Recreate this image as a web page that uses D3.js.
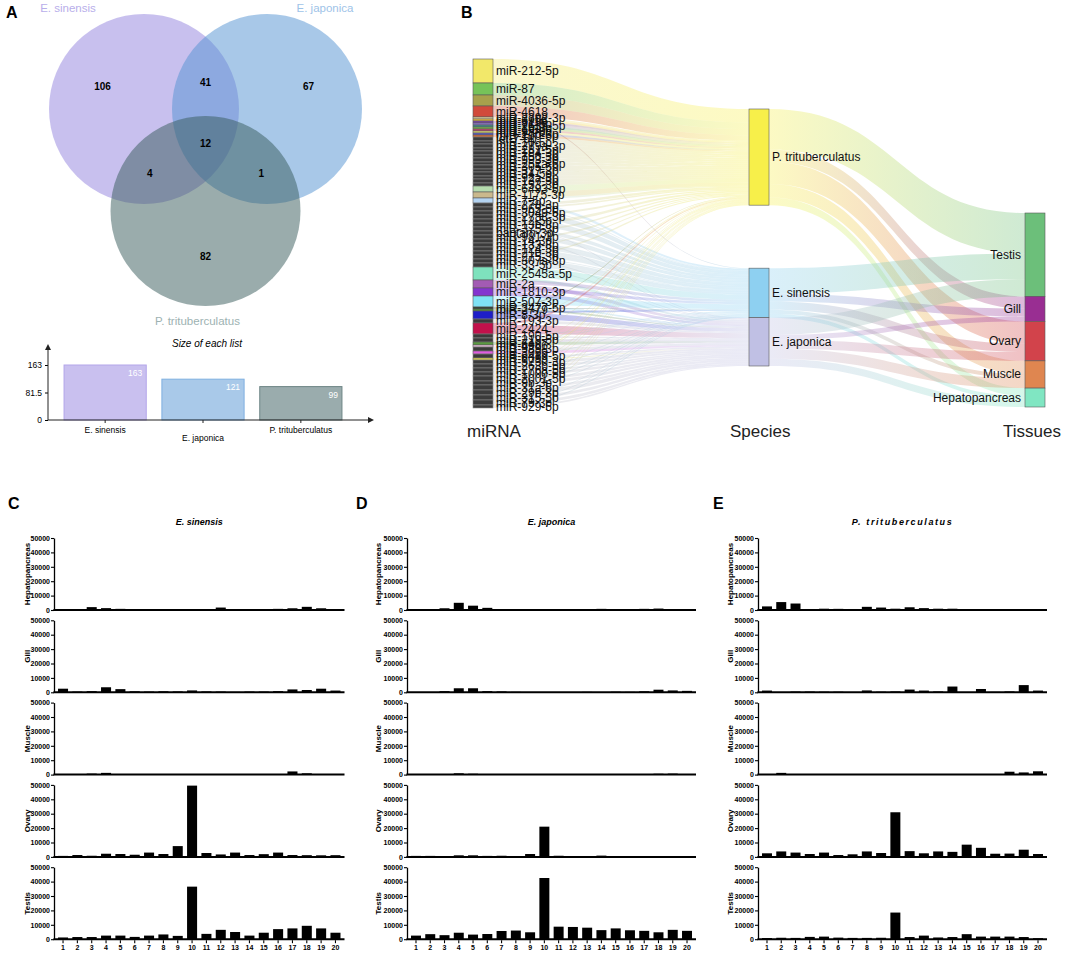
<!DOCTYPE html>
<html lang="en">
<head>
<meta charset="UTF-8">
<title>miRNA across species and tissues</title>
<script src="https://d3js.org/d3.v7.min.js"></script>
<style>
    html, body { margin: 0; padding: 0; background: #fff; }
    svg { display: block; font-family: "Liberation Sans", Arial, sans-serif; }
</style>
</head>
<body>
<svg id="canvas" width="1084" height="955"></svg>
<script>
// ---------------- data ----------------
// A: Venn + list sizes
const vennSets = ["E. sinensis", "E. japonica", "P. trituberculatus"];
const listSizes = [163, 121, 99];
// only sin, only jap, only P, sin&jap, sin&P, jap&P, all three
const vennCounts = [106, 67, 82, 41, 4, 1, 12];

// B: Sankey
const GRAY = "#3b3b3b";
const mirNames = [
    "miR-212-5p", "miR-87", "miR-4036-5p", "miR-4618", "miR-2392-3p", "miR-3968", "miR-5119",
    "miR-71-5p", "miR-263a-5p", "miR-2b-3p", "miR-1-3p", "miR-9a-5p", "miR-276-3p", "miR-100-5p",
    "let-7-5p", "miR-10-5p", "miR-279a-3p", "miR-281-5p", "miR-184-3p", "miR-750-3p", "miR-993-3p",
    "miR-252a-5p", "miR-305-5p", "miR-317-3p", "miR-34-5p", "miR-92a-3p", "miR-137-3p", "miR-153-3p",
    "miR-6493-5p", "miR-1175-3p", "miR-7-5p",
    "miR-278-3p", "miR-965-5p", "miR-3049-5p", "miR-2788-3p", "miR-12-5p", "miR-13b-3p", "miR-375-3p",
    "bantam-3p", "miR-981-3p", "miR-14-3p", "miR-133-3p", "miR-124-3p", "miR-210-3p", "miR-275-3p",
    "miR-307a-3p", "miR-33-5p",
    "miR-2545a-5p", "miR-2a", "miR-1810-3p", "miR-507-3p", "miR-3477-5p", "miR-2779", "miR-8-3p",
    "miR-193-3p", "miR-2424",
    "miR-190-5p", "miR-219-5p", "miR-6497", "miR-4966", "miR-989-3p", "miR-3099", "miR-6489-5p",
    "miR-6089", "miR-5730-3p", "miR-263b-5p", "miR-276a-5p", "miR-1000-5p", "miR-2001-5p",
    "miR-9b-3p", "miR-31a-5p", "miR-29b-3p", "miR-315-5p", "miR-79-3p", "miR-929-5p"
];
const mirColors = [
    "#f2e86a", "#76c359", "#a7a14c", "#d14a3b", "#e6d8a0", "#f0c040", "#7a40b0",
    "#9078d0", "#3f8c8c", "#78b648", "#c2406e", "#e2e070", "#5a5ac8", "#d86a30",
    GRAY, GRAY, GRAY, GRAY, GRAY, GRAY, GRAY, GRAY, GRAY, GRAY, GRAY, GRAY, GRAY, GRAY,
    "#b5dcae", "#cab98d", "#b3d3f1",
    GRAY, GRAY, GRAY, GRAY, GRAY, GRAY, GRAY, GRAY, GRAY, GRAY, GRAY, GRAY, GRAY, GRAY, GRAY, GRAY,
    "#7ee2bd", "#a35bb3", "#8434cf", "#7fe2f5", "#2d3d2d", "#4d8c3a", "#1e1ec8", GRAY, "#c2114b",
    GRAY, GRAY, "#5a9a40", "#f2c6e6", GRAY, "#e05ce0", GRAY, "#e8e050",
    GRAY, GRAY, GRAY, GRAY, GRAY, GRAY, GRAY, GRAY, GRAY, GRAY, GRAY
];
const mirToPT = [24, 12, 11, 10, 2, 2, 2, 2, 2, 2, 2, 2, 2, 2,
    4, 3, 4, 3, 4, 3, 4, 3, 4, 3, 4, 3, 4, 3, 6, 6, 2,
    3, 2, 0, 2, 0, 3, 0, 2, 0, 2, 0, 1, 0, 2, 0, 0,
    0, 0, 0, 0, 1, 0, 0, 1, 2,
    1, 0, 0, 0, 1, 0, 1, 1, 1, 0, 1, 1, 1, 0, 1, 1, 1, 1, 0];
const mirToES = [0, 0, 0, 1, 0, 0, 0, 0, 0, 0, 0, 0, 0, 0,
    0, 0, 0, 0, 0, 0, 0, 0, 0, 0, 0, 0, 0, 0, 0, 0, 3,
    1, 2, 4, 2, 4, 0, 4, 2, 3, 2, 4, 3, 4, 1, 4, 3,
    10, 4, 4, 9, 1, 0, 2, 0, 0,
    1, 1, 0, 1, 0, 0, 1, 0, 0, 1, 1, 0, 1, 1, 1, 0, 1, 1, 1];
const mirToEJ = [0, 0, 0, 0, 0, 0, 0, 0, 0, 0, 0, 0, 0, 0,
    0, 0, 0, 0, 0, 0, 0, 0, 0, 0, 0, 0, 0, 0, 0, 0, 0,
    0, 0, 0, 0, 0, 1, 0, 0, 1, 0, 0, 0, 0, 1, 0, 1,
    3, 4, 4, 2, 0, 2, 6, 3, 9,
    2, 3, 3, 1, 3, 3, 2, 1, 3, 3, 2, 3, 3, 3, 3, 4, 3, 3, 2];

const speciesNames = ["P. trituberculatus", "E. sinensis", "E. japonica"];
const speciesColors = ["#f7ef4a", "#8ed0f1", "#c0c0e4"];
const tissueNames = ["Testis", "Gill", "Ovary", "Muscle", "Hepatopancreas"];
const tissueColors = ["#6cbf7a", "#992e92", "#d2434b", "#df8650", "#80e6c2"];
const ptToTissue = [73, 22, 40, 24, 14];
const esToTissue = [46, 14, 15, 7, 7];
const ejToTissue = [31, 9, 16, 18, 13];

// C-E: expression of top 20 miRNAs
const mirIds = ["1","2","3","4","5","6","7","8","9","10","11","12","13","14","15","16","17","18","19","20"];
const tissueRows = ["Hepatopancreas", "Gill", "Muscle", "Ovary", "Testis"];
const yTicks = [0, 10000, 20000, 30000, 40000, 50000];

const esHepato = [100,100,2000,1300,800,400,400,300,400,300,300,1700,200,200,200,800,1200,2200,1200,300];
const esGill   = [2500,500,800,3500,2200,700,500,700,600,1300,600,500,300,500,500,800,2000,1600,2500,1200];
const esMuscle = [100,100,700,1200,100,100,100,100,100,300,100,100,100,300,100,300,2200,900,300,100];
const esOvary  = [700,1300,800,2200,2000,1500,3000,2000,7500,49500,2700,1700,3000,1300,1900,3000,1300,1200,1100,1200];
const esTestis = [1200,1500,1500,2500,2500,1600,2500,3300,2300,36500,3700,6500,5000,2500,4500,7000,7500,9300,7500,4500];

const ejHepato = [100,100,1200,5000,3000,1500,300,200,300,200,200,200,200,800,300,300,800,1000,400,300];
const ejGill   = [100,100,800,2800,2800,800,600,300,100,100,100,100,300,200,400,300,700,1800,1300,1000];
const ejMuscle = [100,100,400,900,600,300,300,200,100,100,100,100,200,300,200,300,400,600,700,100];
const ejOvary  = [700,700,600,1100,1100,700,800,600,2000,21000,800,600,400,900,400,400,300,500,300,300];
const ejTestis = [2500,3500,2800,4500,3200,3600,5700,6000,4800,42500,8700,8500,8000,6300,7500,6200,5800,4800,6500,5800];

const ptHepato = [2500,5500,4500,700,900,800,700,2200,1700,900,1900,1300,900,900,100,100,200,100,300,300];
const ptGill   = [1200,100,500,500,400,400,100,1300,400,600,1900,1200,600,4000,100,2300,300,600,5000,1200];
const ptMuscle = [100,1200,100,100,100,100,100,100,100,100,100,100,400,100,100,100,100,2000,1500,2300];
const ptOvary  = [2500,3800,3000,2000,3000,1300,1800,3800,2700,31000,4000,2500,3800,3500,8500,6300,2200,2300,5000,2000];
const ptTestis = [800,1000,900,1600,1800,1100,900,900,1000,18500,1500,2500,1200,1500,3500,1800,1800,1800,1500,700];

// ---------------- drawing ----------------
const svg = d3.select("#canvas");
const defs = svg.append("defs");

// panel letters
const letters = [["A", 6, 18], ["B", 461, 18], ["C", 8, 509], ["D", 356, 509], ["E", 713, 509]];
svg.append("g").selectAll("text").data(letters).join("text")
    .attr("x", d => d[1]).attr("y", d => d[2])
    .attr("font-size", 16).attr("font-weight", "bold").text(d => d[0]);

// ===== A: Venn =====
(function drawVenn() {
    const colors = ["#9181dd", "#5191d1", "#355959"];
    const titleColors = ["#b8aeea", "#9ec3e8", "#9db2b2"];
    const r = 95, cx = 205.5, cy = 109, dx = 61.5, dy = 102;
    const centres = [[cx - dx, cy], [cx + dx, cy], [cx, cy + dy]];
    const g = svg.append("g");

    g.selectAll("circle").data(centres).join("circle")
        .attr("cx", d => d[0]).attr("cy", d => d[1]).attr("r", r)
        .attr("fill", (d, i) => colors[i]).attr("fill-opacity", 0.5);

    const mid = (a, b) => [(a[0] + b[0]) / 2, (a[1] + b[1]) / 2];
    const push = (p, from, f) => [p[0] + (p[0] - from[0]) * f, p[1] + (p[1] - from[1]) * f];
    const [S, J, P] = centres;
    const labelPos = [
        push(S, mid(J, P), 0.45),
        push(J, mid(S, P), 0.45),
        push(P, mid(S, J), 0.45),
        push(mid(S, J), P, 0.26),
        push(mid(S, P), J, 0.27),
        push(mid(J, P), S, 0.27),
        [(S[0] + J[0] + P[0]) / 3, (S[1] + J[1] + P[1]) / 3]
    ];
    g.selectAll("text.cnt").data(vennCounts).join("text").attr("class", "cnt")
        .attr("x", (d, i) => labelPos[i][0]).attr("y", (d, i) => labelPos[i][1])
        .attr("text-anchor", "middle").attr("dominant-baseline", "central")
        .attr("font-size", 10).attr("font-weight", "bold").text(d => d);

    const titlePos = [[S[0] - 76, 12], [J[0] + 58, 12], [P[0] - 8, P[1] + r + 19]];
    g.selectAll("text.ttl").data(vennSets).join("text").attr("class", "ttl")
        .attr("x", (d, i) => titlePos[i][0]).attr("y", (d, i) => titlePos[i][1])
        .attr("text-anchor", "middle").attr("font-size", 11.5)
        .attr("fill", (d, i) => titleColors[i]).text(d => d);

    // size of each list
    const bx = d3.scaleBand().domain(vennSets).range([48, 358]).paddingInner(0.16).paddingOuter(0.164);
    const by = d3.scaleLinear().domain([0, 163]).range([420, 365]);
    const barFill = ["#c9c0ef", "#a9c9e9", "#9aacad"];
    const barStroke = ["#b3a6ea", "#7fb0e0", "#6d8586"];
    g.append("text").attr("x", 207).attr("y", 347).attr("text-anchor", "middle")
        .attr("font-size", 10).attr("font-style", "italic").text("Size of each list");
    g.selectAll("rect").data(listSizes).join("rect")
        .attr("x", (d, i) => bx(vennSets[i])).attr("width", bx.bandwidth())
        .attr("y", d => by(d)).attr("height", d => by(0) - by(d))
        .attr("fill", (d, i) => barFill[i]).attr("stroke", (d, i) => barStroke[i]).attr("stroke-width", 1);
    g.selectAll("text.val").data(listSizes).join("text").attr("class", "val")
        .attr("x", (d, i) => bx(vennSets[i]) + bx.bandwidth() - 4).attr("y", d => by(d) + 11)
        .attr("text-anchor", "end").attr("font-size", 8.5).attr("fill", "#fff").text(d => d);

    const yAx = g.append("g").attr("transform", "translate(48,0)")
        .call(d3.axisLeft(by).tickValues([0, 81.5, 163]).tickFormat(d => d).tickSize(3).tickSizeOuter(0));
    yAx.select(".domain").remove();
    yAx.selectAll("text").attr("font-size", 8.5).attr("font-family", null);
    g.append("line").attr("x1", 48).attr("x2", 48).attr("y1", by(0)).attr("y2", 349).attr("stroke", "#222");
    g.append("line").attr("x1", 48).attr("x2", 369).attr("y1", by(0)).attr("y2", by(0)).attr("stroke", "#222");
    g.append("path").attr("d", "M45,350L48,344L51,350Z").attr("fill", "#222");
    g.append("path").attr("d", "M368,417L374,420L368,423Z").attr("fill", "#222");
    g.selectAll("line.xt").data(vennSets).join("line").attr("class", "xt")
        .attr("x1", d => bx(d) + bx.bandwidth() / 2).attr("x2", d => bx(d) + bx.bandwidth() / 2)
        .attr("y1", by(0)).attr("y2", by(0) + 3).attr("stroke", "#222");
    g.selectAll("text.xl").data(vennSets).join("text").attr("class", "xl")
        .attr("x", d => bx(d) + bx.bandwidth() / 2).attr("y", (d, i) => i === 1 ? 441 : 433)
        .attr("text-anchor", "middle").attr("font-size", 8.5).text(d => d);
})();

// ===== B: Sankey =====
(function drawSankey() {
    const L = {leftX: 473, nodeW: 20, midX: 749, rightX: 1025, leftTop: 59, leftBottom: 408,
               midTop: 109, speciesGap: 63, rightTop: 213, rightBottom: 407};
    const g = svg.append("g");
    const mirTargets = [mirToPT, mirToES, mirToEJ];
    const speciesToTissue = [ptToTissue, esToTissue, ejToTissue];
    const mirTotals = mirNames.map((_, i) => mirToPT[i] + mirToES[i] + mirToEJ[i]);
    const grand = d3.sum(mirTotals);
    const yL = d3.scaleLinear().domain([0, grand]).range([L.leftTop, L.leftBottom]);
    const kL = yL(1) - yL(0);
    const k = (L.rightBottom - L.rightTop) / grand;

    let acc = 0;
    const leftNodes = mirNames.map((name, i) => {
        const n = {name, color: mirColors[i], y0: yL(acc), y1: yL(acc + mirTotals[i])};
        acc += mirTotals[i];
        return n;
    });
    const speciesVal = speciesNames.map((_, j) => Math.max(d3.sum(mirTargets[j]), d3.sum(speciesToTissue[j])));
    let sy = L.midTop;
    const speciesNodes = speciesNames.map((name, j) => {
        const n = {name, color: speciesColors[j], y0: sy, y1: sy + speciesVal[j] * k};
        sy = n.y1 + (j === 0 ? L.speciesGap : 0);
        return n;
    });
    let ty = L.rightTop;
    const tissueNodes = tissueNames.map((name, t) => {
        const v = d3.sum(speciesToTissue, arr => arr[t]);
        const n = {name, color: tissueColors[t], y0: ty, y1: ty + v * k};
        ty = n.y1;
        return n;
    });

    const links = [];
    const lOff = leftNodes.map(n => n.y0);
    const sIn = speciesNodes.map(n => n.y0);
    mirNames.forEach((_, i) => {
        mirTargets.forEach((arr, j) => {
            const v = arr[i];
            if (!v) return;
            const s0 = lOff[i], s1 = s0 + v * kL; lOff[i] = s1;
            const t0 = sIn[j], t1 = t0 + v * k; sIn[j] = t1;
            links.push({x0: L.leftX + L.nodeW, x1: L.midX, s0, s1, t0, t1,
                c0: mirColors[i] === GRAY ? "#c4c4c4" : mirColors[i], c1: speciesColors[j]});
        });
    });
    const sOut = speciesNodes.map(n => n.y0);
    const tIn = tissueNodes.map(n => n.y0);
    speciesToTissue.forEach((arr, j) => {
        arr.forEach((v, t) => {
            const s0 = sOut[j], s1 = s0 + v * k; sOut[j] = s1;
            const t0 = tIn[t], t1 = t0 + v * k; tIn[t] = t1;
            links.push({x0: L.midX + L.nodeW, x1: L.rightX, s0, s1, t0, t1,
                c0: speciesColors[j], c1: tissueColors[t]});
        });
    });

    links.forEach((d, i) => {
        const gr = defs.append("linearGradient").attr("id", "lk" + i)
            .attr("gradientUnits", "userSpaceOnUse")
            .attr("x1", d.x0).attr("x2", d.x1).attr("y1", 0).attr("y2", 0);
        gr.append("stop").attr("offset", "0%").attr("stop-color", d.c0);
        gr.append("stop").attr("offset", "100%").attr("stop-color", d.c1);
    });

    function band(d) {
        const p = d3.path(), xm = (d.x0 + d.x1) / 2;
        p.moveTo(d.x0, d.s0);
        p.bezierCurveTo(xm, d.s0, xm, d.t0, d.x1, d.t0);
        p.lineTo(d.x1, d.t1);
        p.bezierCurveTo(xm, d.t1, xm, d.s1, d.x0, d.s1);
        p.closePath();
        return p.toString();
    }
    g.append("g").selectAll("path").data(links).join("path")
        .attr("d", band).attr("fill", (d, i) => `url(#lk${i})`).attr("fill-opacity", 0.33);

    function drawNodes(nodes, x) {
        g.append("g").selectAll("rect").data(nodes).join("rect")
            .attr("x", x).attr("width", L.nodeW)
            .attr("y", d => d.y0).attr("height", d => Math.max(0.5, d.y1 - d.y0))
            .attr("fill", d => d.color).attr("stroke", d => d.color === GRAY ? "#8a8a8a" : "#5a5a5a")
            .attr("stroke-width", 0.6);
    }
    drawNodes(leftNodes, L.leftX);
    drawNodes(speciesNodes, L.midX);
    drawNodes(tissueNodes, L.rightX);

    g.append("g").selectAll("text").data(leftNodes).join("text")
        .attr("x", L.leftX + L.nodeW + 3).attr("y", d => (d.y0 + d.y1) / 2)
        .attr("dominant-baseline", "central").attr("font-size", 12).attr("fill", "#111").text(d => d.name);
    g.append("g").selectAll("text").data(speciesNodes).join("text")
        .attr("x", L.midX + L.nodeW + 3).attr("y", d => (d.y0 + d.y1) / 2)
        .attr("dominant-baseline", "central").attr("font-size", 12).attr("fill", "#111").text(d => d.name);
    g.append("g").selectAll("text").data(tissueNodes).join("text")
        .attr("x", L.rightX - 4).attr("y", d => (d.y0 + d.y1) / 2).attr("text-anchor", "end")
        .attr("dominant-baseline", "central").attr("font-size", 12).attr("fill", "#111").text(d => d.name);

    const colTitles = [["miRNA", 467], ["Species", 730], ["Tissues", 1003]];
    g.append("g").selectAll("text").data(colTitles).join("text")
        .attr("x", d => d[1]).attr("y", 437).attr("font-size", 17).attr("fill", "#222").text(d => d[0]);
})();

// ===== C-E: bar panels =====
(function drawBars() {
    const panels = [
        {title: "E. sinensis", x0: 54, x1: 344.5, labelX: 27, spacing: 0,
         rows: [esHepato, esGill, esMuscle, esOvary, esTestis]},
        {title: "E. japonica", x0: 407, x1: 696, labelX: 378, spacing: 0,
         rows: [ejHepato, ejGill, ejMuscle, ejOvary, ejTestis]},
        {title: "P. trituberculatus", x0: 758, x1: 1047, labelX: 730, spacing: 1.6,
         rows: [ptHepato, ptGill, ptMuscle, ptOvary, ptTestis]}
    ];
    const top0 = 538, rowH = 72, pitch = 82.3;

    panels.forEach(p => {
        const g = svg.append("g");
        const x = d3.scaleBand().domain(mirIds).range([p.x0, p.x1]).paddingInner(0.3).paddingOuter(0.28);
        g.append("text").attr("x", (p.x0 + p.x1) / 2).attr("y", 525).attr("text-anchor", "middle")
            .attr("font-size", 9).attr("font-weight", "bold").attr("font-style", "italic")
            .attr("letter-spacing", p.spacing).text(p.title);

        p.rows.forEach((vals, r) => {
            const yTop = top0 + r * pitch;
            const y = d3.scaleLinear().domain([0, 50000]).range([yTop + rowH, yTop]);
            g.append("g").selectAll("rect").data(vals).join("rect")
                .attr("x", (d, i) => x(mirIds[i])).attr("width", x.bandwidth())
                .attr("y", d => y(d)).attr("height", d => y(0) - y(d)).attr("fill", "#000");

            const ax = g.append("g").attr("transform", `translate(${p.x0},0)`)
                .call(d3.axisLeft(y).tickValues(yTicks).tickFormat(d3.format("d")).tickSize(3).tickSizeOuter(0));
            ax.select(".domain").attr("stroke-width", 1.3);
            ax.selectAll(".tick line").attr("stroke-width", 1.1);
            ax.selectAll("text").attr("font-size", 7).attr("font-weight", "bold")
                .attr("font-family", null).attr("x", -4);

            g.append("line").attr("x1", p.x0 - 0.6).attr("x2", p.x1).attr("y1", y(0)).attr("y2", y(0))
                .attr("stroke", "#000").attr("stroke-width", 2);

            g.append("text")
                .attr("transform", `translate(${p.labelX},${yTop + rowH / 2}) rotate(-90)`)
                .attr("text-anchor", "middle").attr("dominant-baseline", "central")
                .attr("font-size", 8).attr("font-weight", "bold").text(tissueRows[r]);

            if (r === p.rows.length - 1) {
                const xa = g.append("g").attr("transform", `translate(0,${y(0) + 1})`)
                    .call(d3.axisBottom(x).tickSize(3).tickSizeOuter(0));
                xa.select(".domain").remove();
                xa.selectAll(".tick line").attr("stroke-width", 1.1);
                xa.selectAll("text").attr("font-size", 7).attr("font-weight", "bold")
                    .attr("font-family", null).attr("y", 5);
            }
        });
    });
})();
</script>
</body>
</html>
